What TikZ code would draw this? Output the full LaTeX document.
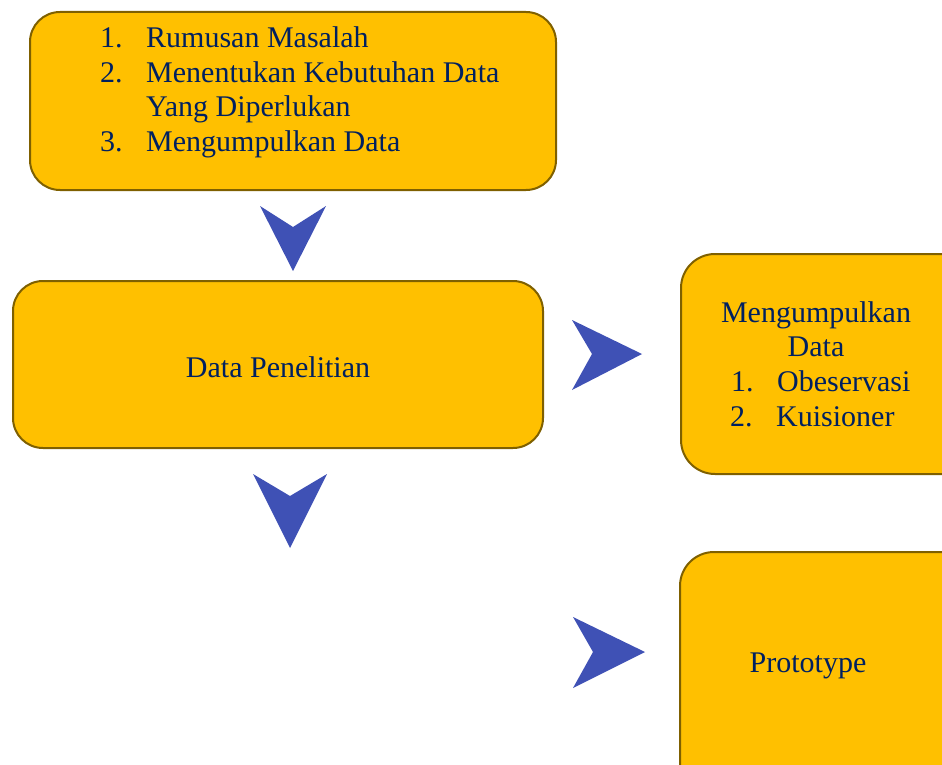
\documentclass[tikz,border=0pt]{standalone}
\usepackage{fontspec}
\setmainfont{Liberation Serif}
\definecolor{boxfill}{HTML}{FFC000}
\definecolor{boxline}{HTML}{7F6000}
\definecolor{txt}{HTML}{002060}
\definecolor{chev}{HTML}{3F51B5}
\begin{document}
\begin{tikzpicture}[x=1pt,y=-1pt,
  box/.style={draw=boxline, line width=2pt, fill=boxfill, inner sep=0pt},
  lbl/.style={text=txt, font=\fontsize{30}{34.5}\selectfont, inner sep=0pt, anchor=base west},
  clbl/.style={lbl, anchor=base},
  chevron/.style={fill=chev}]
\useasboundingbox (0,0) rectangle (942,765);
\clip (0,0) rectangle (942,765);
% boxes
\node[box, rounded corners=30pt, minimum width=526pt, minimum height=178pt] (b1) at (293,101) {};
\node[box, rounded corners=30pt, minimum width=530pt, minimum height=167pt] (b2) at (278,364.5) {};
\node[box, rounded corners=34pt, minimum width=299pt, minimum height=220pt] (b3) at (830.5,364) {};
\node[box, rounded corners=34pt, minimum width=300pt, minimum height=248pt] (b4) at (830,676) {};
% texts box 1
\node[lbl] (n1) at (100,48) {1.};
\node[lbl] (t1) at (146,48) {Rumusan Masalah};
\node[lbl] (n2) at (100,83) {2.};
\node[lbl] (t2) at (146,83) {Menentukan Kebutuhan Data};
\node[lbl] (t2b) at (146,117) {Yang Diperlukan};
\node[lbl] (n3) at (100,152) {3.};
\node[lbl] (t3) at (146,152) {Mengumpulkan Data};
% box 2
\node[clbl] (t4) at (278,377) {Data Penelitian};
% box 3
\node[clbl] (t5) at (816,322) {Mengumpulkan};
\node[clbl] (t6) at (816,356) {Data};
\node[lbl] (n7) at (731,391) {1.};
\node[lbl] (t7) at (777,391) {Obeservasi};
\node[lbl] (n8) at (730,426) {2.};
\node[lbl] (t8) at (776,426) {Kuisioner};
% box 4
\node[clbl] (t9) at (808,672) {Prototype};
% chevrons
\fill[chevron] (260,206) -- (293,227) -- (326,206) -- (293,271) -- cycle;
\fill[chevron] (253,474) -- (290,496) -- (327,474) -- (290,548) -- cycle;
\fill[chevron] (572,320) -- (592,354) -- (572,390) -- (642,354) -- cycle;
\fill[chevron] (573,617) -- (593,652) -- (573,688) -- (645,652) -- cycle;
\end{tikzpicture}
\end{document}
